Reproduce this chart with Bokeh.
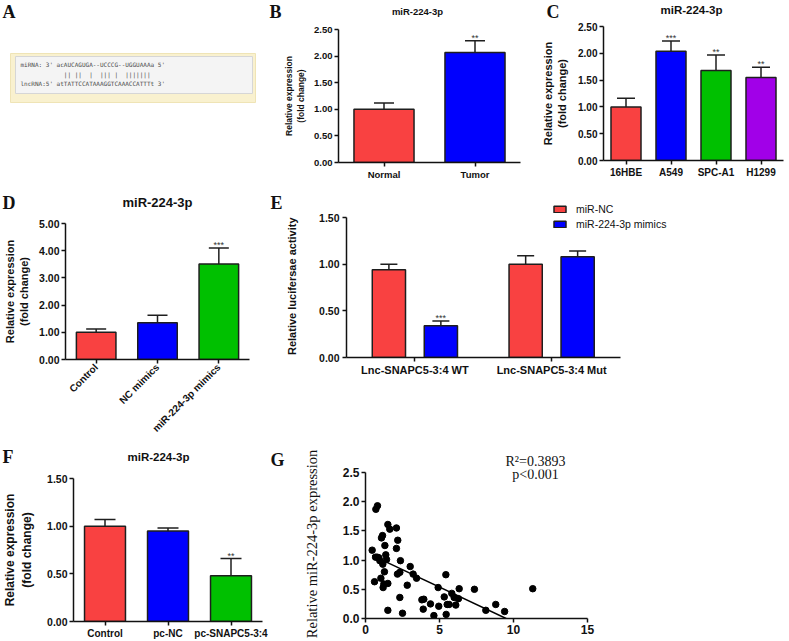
import math
from bokeh.plotting import figure
from bokeh.models import (ColumnDataSource, FactorRange, Range1d, FixedTicker, NumeralTickFormatter,
                          Whisker, TeeHead, Label, Legend, LegendItem)
from bokeh.layouts import row, column
from bokeh.transform import dodge
from bokeh.core.properties import value
from bokeh.embed import file_html
from bokeh.resources import INLINE

# ---------------- data ----------------
SEQ_LINES = ["miRNA: 3' acAUCAGUGA--UCCCG--UGGUAAAa 5'",
             "            || ||  |  ||| |  |||||||",
             "lncRNA:5' atTATTCCATAAAGGTCAAACCATTTt 3'"]
PANEL_TITLE = "miR-224-3p"
YLAB = "Relative expression\n(fold change)"

B_cats = ["Normal", "Tumor"]
B_vals = [1.00, 2.07]
B_err = [1.12, 2.29]
B_sig = ["", "**"]

C_cats = ["16HBE", "A549", "SPC-A1", "H1299"]
C_vals = [1.00, 2.04, 1.68, 1.55]
C_err = [1.16, 2.23, 1.97, 1.74]
C_sig = ["", "***", "**", "**"]

D_cats = ["Control", "NC mimics", "miR-224-3p mimics"]
D_vals = [1.00, 1.35, 3.51]
D_err = [1.12, 1.63, 4.10]
D_sig = ["", "", "***"]

E_groups = ["Lnc-SNAPC5-3:4 WT", "Lnc-SNAPC5-3:4 Mut"]
E_series = ["miR-NC", "miR-224-3p mimics"]
E_nc = [0.94, 1.00]
E_nc_err = [1.00, 1.09]
E_mim = [0.34, 1.08]
E_mim_err = [0.39, 1.14]
E_sig = ["***", ""]

F_cats = ["Control", "pc-NC", "pc-SNAPC5-3:4"]
F_vals = [1.00, 0.95, 0.48]
F_err = [1.07, 0.98, 0.66]
F_sig = ["", "", "**"]

G_x = [0.45, 0.61, 0.68, 0.70, 0.81, 0.79, 0.90, 0.97, 1.04, 1.08, 1.15, 1.17, 1.19, 1.24,
       1.28, 1.31, 1.37, 1.42, 1.51, 1.51, 1.51, 1.64, 2.09, 2.09, 2.18, 2.16, 2.36, 2.32,
       2.50, 2.32, 2.82, 3.02, 3.22, 3.45, 3.81, 3.94, 3.90, 4.39, 4.62, 4.91, 4.95, 5.32,
       5.43, 5.45, 5.52, 5.65, 5.83, 5.99, 6.10, 6.28, 6.33, 7.36, 8.13, 8.80, 9.40, 11.30]
G_y = [1.17, 0.63, 1.05, 1.87, 1.93, 1.05, 1.04, 0.99, 0.69, 1.38, 1.42, 0.93, 0.53, 0.59,
       0.80, 1.25, 1.09, 1.01, 1.61, 0.14, 0.60, 1.53, 1.55, 1.20, 1.34, 0.76, 0.99, 0.36,
       0.09, 0.79, 0.57, 0.89, 0.76, 0.69, 0.32, 0.33, 0.16, 0.25, 0.05, 0.53, 0.21, 0.37,
       0.75, 0.07, 0.24, 0.24, 0.43, 0.36, 0.23, 0.34, 0.51, 0.50, 0.14, 0.24, 0.12, 0.51]
G_fit_x = [0.45, 9.5]
G_fit_y = [1.08, 0.0]
G_xticks = [0, 5, 10, 15]
G_yticks = [0.0, 0.5, 1.0, 1.5, 2.0, 2.5]
G_ylabel = "Relative miR-224-3p expression"
G_stats = ["R\u00b2=0.3893", "p<0.001"]

# ---------------- style ----------------
RED = "#f94141"
BLUE = "#0000fe"
GREEN = "#00c000"
PURPLE = "#a100e8"
SANS = "Liberation Sans"
SERIF = "Liberation Serif"
MONO = "DejaVu Sans Mono"
EDGE = "#1e1e1e"
INK = "#111111"
NBSP = "\u00a0"


def make_fig(w, h, l, r, t, b, x_range, y_range, axes=True):
    kw = {}
    if not axes:
        kw = dict(x_axis_location=None, y_axis_location=None)
    p = figure(width=w, height=h, x_range=x_range, y_range=y_range, output_backend="svg",
               toolbar_location=None, min_border_left=l, min_border_right=r,
               min_border_top=t, min_border_bottom=b, frame_align=False, **kw)
    p.outline_line_color = None
    p.xgrid.visible = False
    p.ygrid.visible = False
    p.background_fill_color = "white"
    p.border_fill_color = "white"
    return p


def strip(w, h):
    return make_fig(w, h, 0, 0, 0, 0, Range1d(0, w), Range1d(h, 0), axes=False)


def style_axes(p, ytick, xtick, ylabel, lsize, lstand, lfont=SANS, lstyle="bold"):
    for ax in (p.xaxis[0], p.yaxis[0]):
        ax.axis_line_width = 1.5
        ax.axis_line_color = INK
        ax.major_tick_line_width = 1.5
        ax.major_tick_line_color = INK
        ax.major_tick_in = 0
        ax.major_tick_out = 4
        ax.minor_tick_line_color = None
        ax.major_label_text_font = SANS
        ax.major_label_text_font_style = "bold"
        ax.major_label_text_color = INK
        ax.major_label_standoff = 2
    p.yaxis[0].major_label_text_font_size = f"{ytick}px"
    p.xaxis[0].major_label_text_font_size = f"{xtick}px"
    p.yaxis[0].axis_label = ylabel
    p.yaxis[0].axis_label_text_font = lfont
    p.yaxis[0].axis_label_text_font_style = lstyle
    p.yaxis[0].axis_label_text_font_size = f"{lsize}px"
    p.yaxis[0].axis_label_text_color = INK
    p.yaxis[0].axis_label_standoff = lstand


def add_label(p, x, y, text, size, font=SANS, style="bold", align="left", color=INK):
    # y is the wanted baseline; the label anchor sits about a third of an em above it
    p.add_layout(Label(x=x, y=y - 0.32 * size, x_units="canvas", y_units="canvas", text=text,
                       text_font=font, text_font_style=style, text_font_size=f"{size}px",
                       text_align=align, text_baseline="alphabetic", text_color=color))


def letter(p, x, y, t):
    add_label(p, x, y, t, 18, font=SERIF)


def y_ticks(p, ticks, fmt):
    p.yaxis[0].ticker = FixedTicker(ticks=ticks)
    p.yaxis[0].formatter = NumeralTickFormatter(format=fmt)


def stars(p, x, y, text, src):
    p.text(x=x, y=y, text=text, source=src, text_align="center", text_baseline="alphabetic",
           y_offset=-3, text_font=value(SANS), text_font_size="9px", text_color="#333333")


def bar_panel(p, cats, vals, errs, sigs, colors, width, cap):
    src = ColumnDataSource(dict(cat=cats, val=vals, err=errs, sig=sigs, color=colors))
    p.vbar(x="cat", top="val", width=width, source=src, fill_color="color",
           line_color=EDGE, line_width=1.5)
    p.add_layout(Whisker(source=src, base="cat", lower="val", upper="err", line_color=EDGE,
                         line_width=1.5, lower_head=None,
                         upper_head=TeeHead(size=cap, line_color=EDGE, line_width=1.5)))
    stars(p, "cat", "err", "sig", src)


# ================= ROW 1 (0-190) =================
s1 = strip(789, 22)
letter(s1, 2, 17, "A")
letter(s1, 269, 17, "B")
letter(s1, 546, 17, "C")
add_label(s1, 417, 14, PANEL_TITLE, 9.5, align="center")
add_label(s1, 691, 13, PANEL_TITLE, 11.5, align="center")

# A : sequence alignment box (canvas starts at y=22)
pA = make_fig(258, 168, 0, 0, 0, 0, Range1d(0, 258), Range1d(168, 0), axes=False)
pA.quad(left=[10], right=[255], top=[31], bottom=[80], fill_color="#f9f1cf",
        line_color="#efe4b6", line_width=1)
pA.quad(left=[15], right=[252], top=[34], bottom=[71], fill_color="#f4f4f4",
        line_color="#d6d6d6", line_width=1)
pA.text(x=[20, 20, 20], y=[42, 52, 61],
        text=[s.replace(" ", NBSP) for s in SEQ_LINES], text_font=value(MONO),
        text_font_size="6px", text_color="#4a4a4a", text_baseline="middle", text_align="left")

# B
pB = make_fig(272, 168, 80, 10, 7, 28, FactorRange(*B_cats), Range1d(0, 2.5))
bar_panel(pB, B_cats, B_vals, B_err, B_sig, [RED, BLUE], 0.66, 20)
style_axes(pB, 9.5, 9.5, YLAB, 8.5, 5)
y_ticks(pB, [0, 0.5, 1.0, 1.5, 2.0, 2.5], "0.00")

# C
pC = make_fig(259, 168, 73, 6, 4, 30, FactorRange(*C_cats), Range1d(0, 2.5))
bar_panel(pC, C_cats, C_vals, C_err, C_sig, [RED, BLUE, GREEN, PURPLE], 0.667, 18)
style_axes(pC, 10, 10, YLAB, 11, 7)
y_ticks(pC, [0, 0.5, 1.0, 1.5, 2.0, 2.5], "0.00")

# ================= ROW 2 (190-441) =================
s2 = strip(283, 23)
letter(s2, 2, 18, "D")
letter(s2, 270, 18, "E")
add_label(s2, 157, 16, PANEL_TITLE, 13, align="center")

# D
pD = make_fig(283, 228, 63, 34, 10, 82, FactorRange(*D_cats), Range1d(0, 5))
bar_panel(pD, D_cats, D_vals, D_err, D_sig, [RED, BLUE, GREEN], 0.645, 20)
style_axes(pD, 10.5, 10, YLAB, 11, 6)
y_ticks(pD, [0, 1, 2, 3, 4, 5], "0.00")
pD.xaxis[0].major_label_orientation = math.pi / 4

# E (frame extended up/right, axis lines limited by bounds)
E_w, E_frame_w, E_unit = 506, 447, 138.0
E_frame_h, E_px_per = 167, 140 / 1.5
pE = make_fig(E_w, 251, 59, 0, 0, 84, Range1d(0, E_frame_w / E_unit),
              Range1d(0, E_frame_h / E_px_per))
E_pos = [i + 0.5 for i in range(len(E_groups))]
srcE = ColumnDataSource(dict(pos=E_pos, nc=E_nc, nc_err=E_nc_err, mim=E_mim,
                             mim_err=E_mim_err, sig=E_sig))
xl = dodge("pos", -0.19)
xr = dodge("pos", 0.19)
r1 = pE.vbar(x=xl, top="nc", width=0.243, source=srcE, fill_color=RED, line_color=EDGE, line_width=1.5)
r2 = pE.vbar(x=xr, top="mim", width=0.243, source=srcE, fill_color=BLUE, line_color=EDGE, line_width=1.5)
for xx, lo, hi in ((xl, "nc", "nc_err"), (xr, "mim", "mim_err")):
    pE.add_layout(Whisker(source=srcE, base=xx, lower=lo, upper=hi, line_color=EDGE, line_width=1.5,
                          lower_head=None, upper_head=TeeHead(size=17, line_color=EDGE, line_width=1.5)))
stars(pE, xr, "mim_err", "sig", srcE)
style_axes(pE, 10.5, 11, "Relative lucifersae activity" + NBSP * 8, 11, 18)
pE.yaxis[0].major_label_standoff = 3
y_ticks(pE, [0, 0.5, 1.0, 1.5], "0.00")
pE.yaxis[0].bounds = (0, 1.5)
pE.xaxis[0].bounds = (0, len(E_groups))
pE.xaxis[0].ticker = FixedTicker(ticks=E_pos)
pE.xaxis[0].major_label_overrides = {pos: g for pos, g in zip(E_pos, E_groups)}
legE = Legend(items=[LegendItem(label=E_series[0], renderers=[r1]),
                     LegendItem(label=E_series[1], renderers=[r2])],
              location=(206, 127), glyph_width=15, glyph_height=8, label_standoff=9, spacing=3,
              label_height=12, padding=0, margin=0, border_line_color=None,
              background_fill_alpha=0, label_text_font=SANS, label_text_font_size="10.5px",
              label_text_color=INK)
pE.add_layout(legE)

# ================= ROW 3 (441-641) =================
s3 = strip(290, 28)
letter(s3, 2, 21, "F")
letter(s3, 270, 24, "G")
add_label(s3, 158, 19, PANEL_TITLE, 11.5, align="center")

# F
pF = make_fig(290, 172, 68, 28, 9, 20, FactorRange(*F_cats), Range1d(0, 1.5))
bar_panel(pF, F_cats, F_vals, F_err, F_sig, [RED, BLUE, GREEN], 0.65, 21)
style_axes(pF, 10.5, 10, YLAB, 12, 10)
y_ticks(pF, [0, 0.5, 1.0, 1.5], "0.00")

# G (frame starts 3px above the 2.5 tick; axis line limited by bounds)
G_top, G_frame_h, G_px_per = 28, 149, 146 / 2.5
pG = make_fig(499, 200, 75, 202, G_top, 23, Range1d(0, 15), Range1d(0, G_frame_h / G_px_per))
pG.scatter(G_x, G_y, size=6.5, color="black")
pG.line(G_fit_x, G_fit_y, line_color="black", line_width=1.5)
style_axes(pG, 12, 12, G_ylabel, 14.5, 20, lfont=SERIF, lstyle="normal")
pG.xaxis[0].ticker = FixedTicker(ticks=G_xticks)
y_ticks(pG, G_yticks, "0.0")
pG.yaxis[0].bounds = (0, 2.5)
pG.title.text = G_stats[0]
pG.title.align = "left"
pG.title.offset = 140
pG.title.standoff = 1
pG.title.text_font = SERIF
pG.title.text_font_style = "normal"
pG.title.text_font_size = "14px"
pG.title.text_color = INK
add_label(pG, 245, 37, G_stats[1], 14, font=SERIF, style="normal", align="center")

layout = column(
    s1,
    row(pA, pB, pC),
    row(column(s2, pD), pE),
    row(column(s3, pF), pG),
)
open("out.html", "w").write(file_html(layout, INLINE))
